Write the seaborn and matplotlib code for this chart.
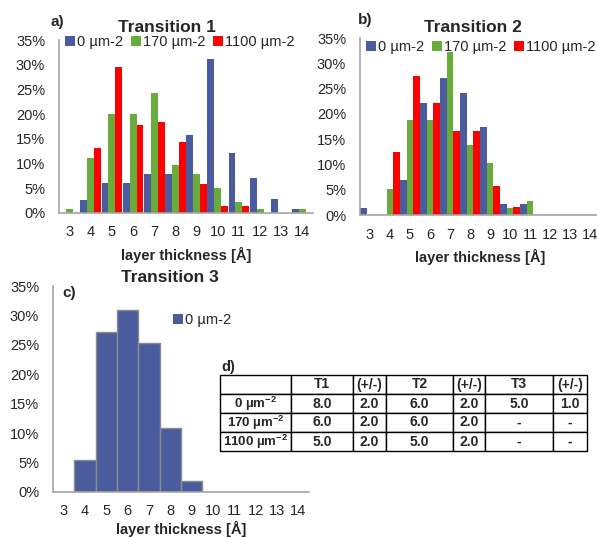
import pandas as pd
import matplotlib
matplotlib.use('Agg')
import matplotlib.pyplot as plt
import seaborn as sns

sns.set_style('white')
plt.rcParams['font.family'] = ['Liberation Sans', 'DejaVu Sans']
plt.rcParams['mathtext.fontset'] = 'custom'
plt.rcParams['mathtext.rm'] = 'Liberation Sans'
plt.rcParams['mathtext.bf'] = 'Liberation Sans:bold'

# data
thickness = [str(v) for v in range(3, 15)]
series = ['0 µm-2', '170 µm-2', '1100 µm-2']
colors = ['#4A5C9E', '#6AAC3C', '#FF0000']

t1_0 = [0.0, 2.7, 6.1, 6.1, 7.9, 7.9, 15.7, 31.2, 12.2, 7.0, 2.8, 0.9]
t1_170 = [0.8, 11.1, 20.1, 20.1, 24.2, 9.8, 7.9, 5.0, 2.3, 0.8, 0.0, 0.9]
t1_1100 = [0.0, 13.1, 29.5, 17.8, 18.4, 14.4, 5.9, 1.5, 1.5, 0.0, 0.0, 0.0]

t2_0 = [1.3, 0.0, 6.9, 22.1, 27.0, 24.1, 17.4, 2.2, 2.1, 0.0, 0.0, 0.0]
t2_170 = [0.0, 5.2, 18.7, 18.7, 32.2, 13.8, 10.2, 1.4, 2.7, 0.0, 0.0, 0.0]
t2_1100 = [0.0, 12.5, 27.5, 22.1, 16.6, 16.6, 5.8, 1.6, 0.0, 0.0, 0.0, 0.0]

t3_0 = [0.0, 5.5, 27.2, 30.9, 25.4, 10.9, 1.9, 0.0, 0.0, 0.0, 0.0, 0.0]

table_cols = ['', 'T1', '(+/-)', 'T2', '(+/-)', 'T3', '(+/-)']
table_rows = [r'0 µm$^{\mathbf{-2}}$', r'170 µm$^{\mathbf{-2}}$', r'1100 µm$^{\mathbf{-2}}$']
table_vals = [['8.0', '2.0', '6.0', '2.0', '5.0', '1.0'],
              ['6.0', '2.0', '6.0', '2.0', '-', '-'],
              ['5.0', '2.0', '5.0', '2.0', '-', '-']]


def long_df(vals):
    rows = []
    for s, v in zip(series, vals):
        for t, p in zip(thickness, v):
            rows.append({'thickness': t, 'series': s, 'pct': p / 100})
    return pd.DataFrame(rows)


def style_axes(ax, labelpad=5):
    ax.set_ylim(0, 0.35)
    ax.set_xlim(-0.5, 11.5)
    ax.set_yticks([i * 0.05 for i in range(8)])
    ax.set_yticklabels([f'{i * 5}%' for i in range(8)])
    for s in ['top', 'right']:
        ax.spines[s].set_visible(False)
    for s in ['left', 'bottom']:
        ax.spines[s].set_color('#A6A6A6')
        ax.spines[s].set_linewidth(1.2)
    ax.tick_params(length=0, labelsize=10.5)
    ax.tick_params(axis='x', pad=9)
    ax.tick_params(axis='y', pad=10)
    ax.set_xlabel('layer thickness [Å]', fontsize=10.5, fontweight='bold', labelpad=labelpad)
    ax.set_ylabel('')


leg_kw = dict(frameon=False, handlelength=0.7, handleheight=0.7, handletextpad=0.15,
              columnspacing=0.5, fontsize=10.5, borderaxespad=0)

fig = plt.figure(figsize=(5.97, 5.37), dpi=100)

# a) Transition 1
ax1 = fig.add_axes([0.0988, 0.6034, 0.4255, 0.3221])
sns.barplot(data=long_df([t1_0, t1_170, t1_1100]), x='thickness', y='pct',
            hue='series', palette=colors, width=0.98, linewidth=0, ax=ax1, saturation=1)
style_axes(ax1)
ax1.legend(loc='upper left', bbox_to_anchor=(0.0, 1.06), ncol=3, **leg_kw)

# b) Transition 2
ax2 = fig.add_axes([0.603, 0.5996, 0.402, 0.3296])
sns.barplot(data=long_df([t2_0, t2_170, t2_1100]), x='thickness', y='pct',
            hue='series', palette=colors, width=0.98, linewidth=0, ax=ax2, saturation=1)
style_axes(ax2)
ax2.legend(loc='upper left', bbox_to_anchor=(0.0, 1.02), ncol=3, **leg_kw)

# c) Transition 3
ax3 = fig.add_axes([0.0888, 0.0838, 0.4288, 0.3836])
sns.barplot(x=thickness, y=[v / 100 for v in t3_0], color=colors[0], width=1.0,
            edgecolor='#8C8C8C', linewidth=1, ax=ax3, saturation=1, label=series[0])
style_axes(ax3, labelpad=2)
leg3 = ax3.legend(loc='upper left', bbox_to_anchor=(0.445, 0.895), **leg_kw)
for h in leg3.legend_handles:
    h.set_edgecolor('none')

# titles and panel letters
fig.text(0.28, 1 - 27 / 537, 'Transition 1', ha='center', va='center', fontsize=12.5, fontweight='bold')
fig.text(0.792, 1 - 27 / 537, 'Transition 2', ha='center', va='center', fontsize=12.5, fontweight='bold')
fig.text(0.285, 1 - 277 / 537, 'Transition 3', ha='center', va='center', fontsize=12.5, fontweight='bold')
fig.text(50 / 597, 1 - 22 / 537, 'a)', ha='left', va='center', fontsize=11, fontweight='bold')
fig.text(358 / 597, 1 - 20 / 537, 'b)', ha='left', va='center', fontsize=11, fontweight='bold')
fig.text(62 / 597, 1 - 293 / 537, 'c)', ha='left', va='center', fontsize=11, fontweight='bold')
fig.text(221 / 597, 1 - 367 / 537, 'd)', ha='left', va='center', fontsize=10.5, fontweight='bold')

# d) table
axt = fig.add_axes([220 / 597, 1 - 451 / 537, 367 / 597, 76 / 537])
axt.axis('off')
cell_text = [table_cols[1:]] + table_vals
row_labels = [''] + table_rows
full = [[r] + c for r, c in zip(row_labels, cell_text)]
widths = [71, 62, 33, 67, 32, 68, 34]
widths = [w / sum(widths) for w in widths]
tbl = axt.table(cellText=full, colWidths=widths, cellLoc='center', bbox=[0, 0, 1, 1])
tbl.auto_set_font_size(False)
for (r, c), cell in tbl.get_celld().items():
    cell.set_edgecolor('black')
    cell.set_linewidth(1.0)
    cell.PAD = 0.02
    cell.get_text().set_fontsize(9.5 if c == 0 else 10)
    cell.get_text().set_fontweight('bold')

plt.savefig('out.png', dpi=100, facecolor='white')
plt.close()
